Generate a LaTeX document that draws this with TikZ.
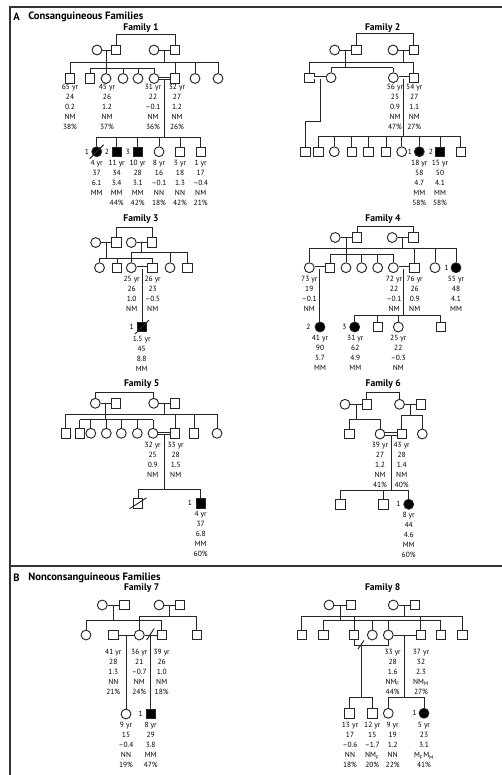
\documentclass[tikz,border=0pt]{standalone}
\usepackage{fontspec}
\setmainfont{PT Sans}
\usetikzlibrary{calc}
\newcommand\couple[4][ln]{\draw[#1] (#2.east) -- (#3.west); \coordinate (#4) at ($(#2.east)!.5!(#3.west)$);}
\newcommand\sib[4]{\coordinate (#1) at (0,#2); \draw[ln] (#3.north |- #1) -- (#4.north |- #1);}
\newcommand\kid[2]{\draw[ln] (#2.north) -- (#2.north |- #1);}
\newcommand\drop[2]{\draw[ln] (#1) -- (#1 |- #2);}
\newcommand\ddrop[2]{\draw[ln] ([yshift=-1pt]#1) -- (#1 |- #2);}
\newcommand\dead[1]{\draw[ln] ([shift={(-7,7)}]#1.center) -- ([shift={(7,-7)}]#1.center);}
\begin{document}
\begin{tikzpicture}[x=0.75pt,y=-0.75pt,
  ln/.style={line width=0.7pt, draw=black!85},
  dbl/.style={ln, double=white, double distance=1.2pt},
  M/.style={draw=black!85, line width=0.7pt, rectangle, minimum size=7pt, inner sep=0pt, fill=white},
  F/.style={draw=black!85, line width=0.7pt, circle, minimum size=7.4pt, inner sep=0pt, fill=white},
  aff/.style={fill=black},
  info/.style={font=\fontsize{5.6}{7.5}\selectfont, align=center, inner sep=0pt, anchor=north},
  ttl/.style={font=\bfseries\fontsize{7.2}{8}\selectfont, inner sep=0pt},
  sec/.style={font=\bfseries\fontsize{8}{9}\selectfont, inner sep=0pt, anchor=west},
  lbl/.style={font=\fontsize{5.6}{7.5}\selectfont, inner sep=0pt},
]
\useasboundingbox (0,0) rectangle (502,775);
% frame
\draw[line width=0.8pt, black!80] (502,7) -- (10,7) -- (10,775);
\draw[line width=0.8pt, black!80] (10,566) -- (502,566);
\node[sec] (hA) at (13,17) {A};
\node[sec] (hAt) at (28,17) {Consanguineous Families};
\node[sec] (hB) at (13,577.7) {B};
\node[sec] (hBt) at (28,577.7) {Nonconsanguineous Families};

% ================= Family 1
\node[ttl] (t1) at (141,28.5) {Family 1};
\node[F] (a1) at (97,50) {};
\node[M] (a2) at (116,50) {};
\node[F] (a3) at (154,50) {};
\node[M] (a4) at (175,50) {};
\coordinate (atl) at (0,34);
\draw[ln] (a2.north) -- (a2.north |- atl) -| (a4.north);
\couple{a1}{a2}{am1}
\couple{a3}{a4}{am2}
\node[M] (b1) at (70,78.5) {};
\node[M] (b2) at (90,78.5) {};
\node[F] (b3) at (106,78.5) {};
\node[F] (b4) at (123,78.5) {};
\node[F] (b5) at (138,78.5) {};
\node[F] (b6) at (154,78.5) {};
\node[M] (b7) at (175,78.5) {};
\node[F] (b8) at (195,78.5) {};
\node[F] (b9) at (218,78.5) {};
\sib{bu}{62}{b1}{b9}
\foreach \k in {b1,b7,b8,b9} {\kid{bu}{\k}}
\sib{bl}{68}{b2}{b6}
\foreach \k in {b2,b3,b4,b5,b6} {\kid{bl}{\k}}
\drop{am1}{bl}
\drop{am2}{bu}
\couple[dbl]{b6}{b7}{bm}
\node[F,aff] (c1) at (96.7,151.7) {};
\node[M,aff] (c2) at (116.7,151.7) {};
\node[M,aff] (c3) at (137.7,151.7) {};
\node[F] (c4) at (159,151.7) {};
\node[M] (c5) at (180,151.7) {};
\node[M] (c6) at (200.7,151.7) {};
\sib{cl}{137}{c1}{c6}
\foreach \k in {c1,c2,c3,c4,c5,c6} {\kid{cl}{\k}}
\ddrop{bm}{cl}
\dead{c1}
\node[lbl] (cl1) at (87,151.7) {1};
\node[lbl] (cl2) at (107,151.7) {2};
\node[lbl] (cl3) at (128,151.7) {3};
\node[info] (ib1) at (70,84.3) {65 yr\\24\\0.2\\NM\\38\%};
\node[info] (ib3) at (107,84.3) {45 yr\\26\\1.2\\NM\\37\%};
\node[info] (ib6) at (153,84.3) {31 yr\\22\\–0.1\\NM\\36\%};
\node[info] (ib7) at (177,84.3) {32 yr\\27\\1.2\\NM\\26\%};
\node[info] (ic1) at (96.7,159.6) {4 yr\\37\\6.1\\MM};
\node[info] (ic2) at (116.7,159.6) {11 yr\\34\\3.4\\MM\\44\%};
\node[info] (ic3) at (137.7,159.6) {10 yr\\28\\3.1\\MM\\42\%};
\node[info] (ic4) at (159,159.6) {8 yr\\16\\–0.1\\NN\\18\%};
\node[info] (ic5) at (180,159.6) {3 yr\\18\\1.3\\NN\\42\%};
\node[info] (ic6) at (200.7,159.6) {1 yr\\17\\–0.4\\NM\\21\%};

% ================= Family 2
\node[ttl] (t2) at (382.7,28.5) {Family 2};
\node[F] (d1) at (334.7,50) {};
\node[M] (d2) at (356.3,50) {};
\node[F] (d3) at (393,50) {};
\node[M] (d4) at (413.7,50) {};
\coordinate (dtl) at (0,33);
\draw[ln] (d2.north) -- (d2.north |- dtl) -| (d4.north);
\couple{d1}{d2}{dm1}
\couple{d3}{d4}{dm2}
\node[M] (e1) at (309.3,77.7) {};
\node[F] (e2) at (331,77.7) {};
\node[F] (e3) at (393.3,77.7) {};
\node[M] (e4) at (413.7,77.7) {};
\sib{eu}{62.3}{e1}{e4}
\foreach \k in {e1,e4} {\kid{eu}{\k}}
\sib{el}{67.7}{e2}{e3}
\foreach \k in {e2,e3} {\kid{el}{\k}}
\drop{dm1}{el}
\drop{dm2}{eu}
\couple[dbl]{e1}{e2}{em1}
\couple[dbl]{e3}{e4}{em2}
\node[M] (f0) at (305.3,151.7) {};
\node[M] (f1) at (318.3,151.7) {};
\node[F] (f2) at (334.3,151.7) {};
\node[M] (f3) at (351.7,151.7) {};
\node[M] (f4) at (368.3,151.7) {};
\node[M] (f5) at (386,151.7) {};
\node[F] (f6) at (401.7,151.7) {};
\node[F,aff] (f7) at (419.3,151.7) {};
\node[M,aff] (f8) at (440,151.7) {};
\node[M] (f9) at (460.7,151.7) {};
\coordinate (fel) at (0,121.7);
\draw[ln] ([yshift=-1pt]em1) |- (f0.north |- fel) -- (f0.north);
\sib{fl}{136.7}{f1}{f9}
\foreach \k in {f1,f2,f3,f4,f5,f6,f7,f8,f9} {\kid{fl}{\k}}
\ddrop{em2}{fl}
\node[lbl] (fl7) at (410,151.7) {1};
\node[lbl] (fl8) at (431,151.7) {2};
\node[info] (ie3) at (395,84.3) {56 yr\\25\\0.9\\NM\\47\%};
\node[info] (ie4) at (414.3,84.3) {54 yr\\27\\1.1\\NM\\27\%};
\node[info] (if7) at (419.3,159.6) {18 yr\\58\\4.7\\MM\\58\%};
\node[info] (if8) at (440,159.6) {15 yr\\50\\4.1\\MM\\58\%};

% ================= Family 3
\node[ttl] (t3) at (141,219) {Family 3};
\node[F] (g1) at (95.7,242.5) {};
\node[M] (g2) at (116.3,242.5) {};
\node[F] (g3) at (131.3,242.5) {};
\node[M] (g4) at (152,242.5) {};
\coordinate (gtl) at (0,227);
\draw[ln] (g2.north) -- (g2.north |- gtl) -| (g4.north);
\couple{g1}{g2}{gm1}
\couple{g3}{g4}{gm2}
\node[F] (h1) at (99.5,267.7) {};
\node[M] (h2) at (117.2,267.7) {};
\node[F] (h3) at (131.3,267.7) {};
\node[M] (h4) at (152.5,267.7) {};
\node[F] (h5) at (170,267.7) {};
\node[M] (h6) at (187.5,267.7) {};
\sib{hu}{252.5}{h3}{h6}
\foreach \k in {h3,h5,h6} {\kid{hu}{\k}}
\sib{hl}{258}{h1}{h4}
\foreach \k in {h1,h2,h4} {\kid{hl}{\k}}
\drop{gm1}{hl}
\drop{gm2}{hu}
\couple[dbl]{h3}{h4}{hm}
\node[M,aff] (k1) at (142,327) {};
\ddrop{hm}{k1.north}
\dead{k1}
\node[lbl] (kl1) at (131.7,327) {1};
\node[info] (ih3) at (131.7,275.6) {25 yr\\26\\1.0\\NM};
\node[info] (ih4) at (152.7,275.6) {26 yr\\23\\–0.5\\NM};
\node[info] (ik1) at (141.7,335.6) {1.5 yr\\45\\8.8\\MM};

% ================= Family 4
\node[ttl] (t4) at (383,219) {Family 4};
\node[F] (m1) at (335.2,237.5) {};
\node[M] (m2) at (357.2,237.5) {};
\node[F] (m3) at (392.2,237.5) {};
\node[M] (m4) at (413.4,237.5) {};
\coordinate (mtl) at (0,226);
\draw[ln] (m2.north) -- (m2.north |- mtl) -| (m4.north);
\couple{m1}{m2}{mm1}
\couple{m3}{m4}{mm2}
\node[F] (n1) at (309.3,267.7) {};
\node[M] (n2) at (330,267.7) {};
\node[F] (n3) at (346,267.7) {};
\node[F] (n4) at (361.7,267.7) {};
\node[F] (n5) at (377.7,267.7) {};
\node[F] (n6) at (393.3,267.7) {};
\node[M] (n7) at (414.3,267.7) {};
\node[F] (n8) at (435,267.7) {};
\node[F,aff] (n9) at (456,267.7) {};
\sib{nu}{248.3}{n1}{n9}
\foreach \k in {n1,n7,n8,n9} {\kid{nu}{\k}}
\sib{nl}{254.3}{n2}{n6}
\foreach \k in {n2,n3,n4,n5,n6} {\kid{nl}{\k}}
\drop{mm1}{nl}
\drop{mm2}{nu}
\couple[dbl]{n1}{n2}{nm1}
\couple[dbl]{n6}{n7}{nm2}
\node[F,aff] (p0) at (320,327) {};
\ddrop{nm1}{p0.north}
\node[F,aff] (p1) at (354.7,327) {};
\node[M] (p2) at (377.7,327) {};
\node[F] (p3) at (398.3,327) {};
\node[M] (p4) at (440.7,327) {};
\sib{pl}{315}{p1}{p4}
\foreach \k in {p1,p2,p3,p4} {\kid{pl}{\k}}
\ddrop{nm2}{pl}
\node[lbl] (nl9) at (446.7,267.7) {1};
\node[lbl] (pl0) at (308.3,327) {2};
\node[lbl] (pl1) at (344.3,327) {3};
\node[info] (in1) at (309.3,275.6) {73 yr\\19\\–0.1\\NM};
\node[info] (in6) at (394,275.6) {72 yr\\22\\–0.1\\NM};
\node[info] (in7) at (414.7,275.6) {76 yr\\26\\0.9\\NM};
\node[info] (in9) at (456,275.6) {55 yr\\48\\4.1\\MM};
\node[info] (ip0) at (320,335) {41 yr\\90\\5.7\\MM};
\node[info] (ip1) at (355.3,335) {31 yr\\62\\4.9\\MM};
\node[info] (ip3) at (398.3,335) {25 yr\\22\\–0.3\\NM};

% ================= Family 5
\node[ttl] (t5) at (141.7,384.3) {Family 5};
\node[F] (q1) at (95.3,403.3) {};
\node[M] (q2) at (116.2,403.3) {};
\node[F] (q3) at (153.7,403.3) {};
\node[M] (q4) at (174.7,403.3) {};
\coordinate (qtl) at (0,392.3);
\draw[ln] (q1.north) -- (q1.north |- qtl) -| (q3.north);
\couple{q1}{q2}{qm1}
\couple{q3}{q4}{qm2}
\node[M] (r1) at (65.7,433.3) {};
\node[M] (r2) at (79.7,433.3) {};
\node[F] (r3) at (90.8,433.3) {};
\node[F] (r4) at (106.3,433.3) {};
\node[F] (r5) at (121.3,433.3) {};
\node[F] (r6) at (137.3,433.3) {};
\node[F] (r7) at (153,433.3) {};
\node[M] (r8) at (175,433.3) {};
\node[M] (r9) at (194,433.3) {};
\node[F] (r10) at (217,433.3) {};
\sib{ru}{414.3}{r1}{r10}
\foreach \k in {r1,r8,r9,r10} {\kid{ru}{\k}}
\sib{rl}{419.5}{r2}{r7}
\foreach \k in {r2,r3,r4,r5,r6,r7} {\kid{rl}{\k}}
\drop{qm1}{rl}
\drop{qm2}{ru}
\couple[dbl]{r7}{r8}{rm}
\node[M] (s1) at (138,503.3) {};
\node[M,aff] (s2) at (200.7,503.3) {};
\sib{sl}{489.3}{s1}{s2}
\foreach \k in {s1,s2} {\kid{sl}{\k}}
\ddrop{rm}{sl}
\draw[ln] ([shift={(-8.5,5.5)}]s1.center) -- ([shift={(8.5,-5.5)}]s1.center);
\node[lbl] (sl2) at (190,503.3) {1};
\node[info] (ir7) at (152.7,442.3) {32 yr\\25\\0.9\\NM};
\node[info] (ir8) at (175.7,442.3) {33 yr\\28\\1.5\\NM};
\node[info] (is2) at (200.7,511.3) {4 yr\\37\\6.8\\MM\\60\%};

% ================= Family 6
\node[ttl] (t6) at (383.3,384.3) {Family 6};
\node[F] (u1) at (345,404.3) {};
\node[M] (u2) at (366.7,404.3) {};
\node[F] (u3) at (399.5,404.3) {};
\node[M] (u4) at (420.8,404.3) {};
\coordinate (utl) at (0,392.3);
\draw[ln] (u2.north) -- (u2.north |- utl) -| (u3.north);
\couple{u1}{u2}{um1}
\couple{u3}{u4}{um2}
\node[M] (v1) at (349.3,434) {};
\node[F] (v2) at (380,434) {};
\node[M] (v3) at (401.7,434) {};
\node[F] (v4) at (422.3,434) {};
\sib{vl}{419}{v1}{v2}
\foreach \k in {v1,v2} {\kid{vl}{\k}}
\sib{vu}{415}{v3}{v4}
\foreach \k in {v3,v4} {\kid{vu}{\k}}
\drop{um1}{vl}
\drop{um2}{vu}
\couple[dbl]{v2}{v3}{vm}
\node[M] (w1) at (340.3,504.3) {};
\node[M] (w2) at (383.3,504.3) {};
\node[F,aff] (w3) at (408.7,504.3) {};
\sib{wl}{490}{w1}{w3}
\foreach \k in {w1,w2,w3} {\kid{wl}{\k}}
\ddrop{vm}{wl}
\node[lbl] (wl3) at (398.3,504.3) {1};
\node[info] (iv2) at (380,442.3) {39 yr\\27\\1.2\\NM\\41\%};
\node[info] (iv3) at (401.7,442.3) {43 yr\\28\\1.4\\NM\\40\%};
\node[info] (iw3) at (408.7,512.3) {8 yr\\44\\4.6\\MM\\60\%};

% ================= Family 7
\node[ttl] (t7) at (141.7,587.7) {Family 7};
\node[F] (x1) at (102.3,605) {};
\node[M] (x2) at (124.3,605) {};
\node[F] (x3) at (159,605) {};
\node[M] (x4) at (180,605) {};
\couple{x1}{x2}{xm1}
\couple{x3}{x4}{xm2}
\node[F] (y1) at (86,635) {};
\node[M] (y2) at (113.3,635) {};
\node[F] (y3) at (139.3,635) {};
\node[M] (y4) at (161.7,635) {};
\node[M] (y5) at (196.7,635) {};
\sib{yl}{620.7}{y1}{y4}
\foreach \k in {y1,y4} {\kid{yl}{\k}}
\sib{yu}{616}{y3}{y5}
\foreach \k in {y3,y5} {\kid{yu}{\k}}
\drop{xm1}{yl}
\drop{xm2}{yu}
\couple{y2}{y3}{ym1}
\couple{y3}{y4}{ym2}
\draw[ln] ([shift={(-4,5)}]ym2) -- ([shift={(3.5,-6.5)}]ym2);
\node[F] (z1) at (126,714) {};
\node[M,aff] (z2) at (150.7,714) {};
\drop{ym1}{z1.north}
\drop{ym2}{z2.north}
\node[lbl] (zl2) at (140.7,714) {1};
\node[info] (iy2) at (113.3,649) {41 yr\\28\\1.3\\NN\\21\%};
\node[info] (iy3) at (139.3,649) {36 yr\\21\\–0.7\\NM\\24\%};
\node[info] (iy4) at (161.7,649) {39 yr\\26\\1.0\\NM\\18\%};
\node[info] (iz1) at (126,721.6) {9 yr\\15\\–0.4\\NN\\19\%};
\node[info] (iz2) at (150.7,721.6) {8 yr\\29\\3.8\\MM\\47\%};

% ================= Family 8
\node[ttl] (t8) at (382.7,587.7) {Family 8};
\node[F] (o1) at (329,605) {};
\node[M] (o2) at (351,605) {};
\node[F] (o3) at (393.3,605) {};
\node[M] (o4) at (415,605) {};
\couple{o1}{o2}{om1}
\couple{o3}{o4}{om2}
\node[M] (j1) at (301.7,635) {};
\node[M] (j2) at (323.3,635) {};
\node[M] (j3) at (354,635) {};
\node[F] (j4) at (372.3,635) {};
\node[F] (j5) at (388.3,635) {};
\node[M] (j6) at (420.7,635) {};
\node[M] (j7) at (440.7,635) {};
\node[M] (j8) at (462.3,635) {};
\sib{ju}{616}{j1}{j8}
\foreach \k in {j1,j3,j6,j8} {\kid{ju}{\k}}
\sib{jl}{620.7}{j2}{j7}
\foreach \k in {j2,j4,j5,j7} {\kid{jl}{\k}}
\drop{om1}{jl}
\drop{om2}{ju}
\coordinate (jU) at (0,645);
\draw[ln] (j3.south) -- (j3.south |- jU) -| (j5.south);
\coordinate (jm1) at (361,645);
\draw[ln] ([shift={(-3,4)}]jm1) -- ([shift={(3,-4.5)}]jm1);
\couple{j5}{j6}{jm2}
\node[M] (l1) at (349.3,713.3) {};
\node[M] (l2) at (372.3,713.3) {};
\node[F] (l3) at (388.3,713.3) {};
\node[F,aff] (l4) at (424,713.3) {};
\sib{ll1}{697.3}{l1}{l2}
\foreach \k in {l1,l2} {\kid{ll1}{\k}}
\sib{ll2}{697.3}{l3}{l4}
\foreach \k in {l3,l4} {\kid{ll2}{\k}}
\drop{jm1}{ll1}
\drop{jm2}{ll2}
\node[lbl] (ll4) at (414.3,713.3) {1};
\node[info] (ij5) at (392.7,649) {33 yr\\28\\1.6\\NM\textsubscript{F}\\44\%};
\node[info] (ij6) at (421,649) {37 yr\\32\\2.3\\NM\textsubscript{M}\\27\%};
\node[info] (il1) at (350,722.3) {13 yr\\17\\–0.6\\NN\\18\%};
\node[info] (il2) at (372.3,722.3) {12 yr\\15\\–1.7\\NM\textsubscript{F}\\20\%};
\node[info] (il3) at (392.7,722.3) {9 yr\\19\\1.2\\NN\\22\%};
\node[info] (il4) at (424,722.3) {5 yr\\23\\3.1\\M\textsubscript{F}M\textsubscript{M}\\41\%};
\end{tikzpicture}
\end{document}
